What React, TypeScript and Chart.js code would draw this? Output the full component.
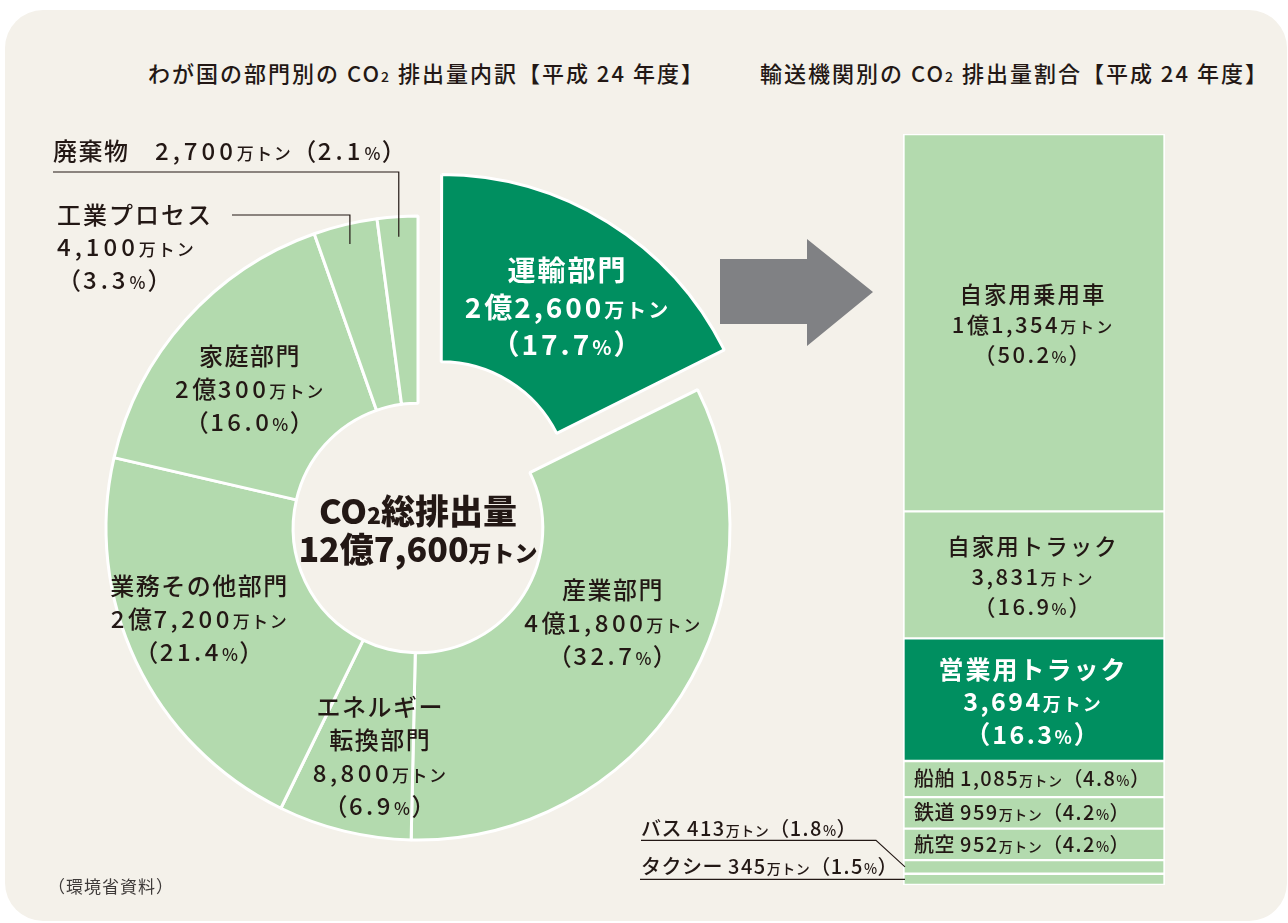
import React, { useEffect, useRef } from 'react';
import { Chart, registerables } from 'chart.js';

Chart.register(...registerables);

// ---- data ----
const sectorNames = ['運輸部門', '産業部門', 'エネルギー\n転換部門', '業務その他部門', '家庭部門', '工業プロセス', '廃棄物'];
const sectorAmounts = [22600, 41800, 8800, 27200, 20300, 4100, 2700]; // 万トン
const sectorShares = [17.7, 32.7, 6.9, 21.4, 16.0, 3.3, 2.1]; // %
const totalAmount = 127600; // 万トン

const modeNames = ['自家用乗用車', '自家用トラック', '営業用トラック', '船舶', '鉄道', '航空', 'バス', 'タクシー'];
const modeAmounts = [11354, 3831, 3694, 1085, 959, 952, 413, 345]; // 万トン
const modeShares = [50.2, 16.9, 16.3, 4.8, 4.2, 4.2, 1.8, 1.5]; // %

const leftTitle = ['わが国の部門別の CO', '2', ' 排出量内訳【平成 24 年度】'];
const rightTitle = ['輸送機関別の CO', '2', ' 排出量割合【平成 24 年度】'];
const sourceNote = '（環境省資料）';

// ---- styles ----
const LIGHT = '#b3daae';
const DARK = '#008f60';
const INK = '#231815';
const BG = '#f4f1ea';
const ARROW = '#808184';
const FAM = '"Noto Sans CJK JP", "Noto Sans", sans-serif';

function fmtAmount(v: number): string {
  const oku = Math.floor(v / 10000);
  const rest = v % 10000;
  const restStr = rest.toLocaleString('en-US');
  return oku > 0 ? `${oku}億${restStr}` : restStr;
}

type Part = { t: string; size: number; ls?: number };

function splitLine(line: string, size: number, digitLs?: number): Part[] {
  return line
    .split(/(万トン|%|[0-9,.]+)/)
    .filter((s) => s.length > 0)
    .map((s) => {
      if (s === '万トン' || s === '%') return { t: s, size: Math.round(size * 0.72) };
      if (/^[0-9,.]+$/.test(s) && digitLs !== undefined) return { t: s, size, ls: digitLs };
      return { t: s, size };
    });
}

function drawParts(
  ctx: CanvasRenderingContext2D,
  parts: Part[],
  x: number,
  yMid: number,
  weight: number,
  color: string,
  align: 'left' | 'center',
  spacing = 0
) {
  const widths = parts.map((p) => {
    ctx.font = `${weight} ${p.size}px ${FAM}`;
    (ctx as any).letterSpacing = (p.ls !== undefined ? p.ls : spacing) + 'px';
    return ctx.measureText(p.t).width;
  });
  const total = widths.reduce((a, b) => a + b, 0) - spacing;
  const big = Math.max(...parts.map((p) => p.size));
  const baseline = yMid + big * 0.37;
  let cx = align === 'center' ? x - total / 2 : x;
  ctx.fillStyle = color;
  ctx.textAlign = 'left';
  ctx.textBaseline = 'alphabetic';
  parts.forEach((p, i) => {
    ctx.font = `${weight} ${p.size}px ${FAM}`;
    (ctx as any).letterSpacing = (p.ls !== undefined ? p.ls : spacing) + 'px';
    ctx.fillText(p.t, cx, baseline);
    cx += widths[i];
  });
  (ctx as any).letterSpacing = '0px';
}

const sectorLabelNudge: [number, number][] = [
  [8, 6],
  [10, -22],
  [13, 16],
  [-22, -3],
  [-6, 7],
  [0, 0],
  [0, 0],
];

// Chart.js moves an offset arc by offset/4 * (1 + fix)
function effectiveOffset(off: number, circ: number) {
  const o = off / 4;
  const fix = 1 - Math.sin(Math.min(Math.PI, circ || 0));
  return o + o * fix;
}

const donutLabels = {
  id: 'donutLabels',
  afterDatasetsDraw(chart: any) {
    const ctx: CanvasRenderingContext2D = chart.ctx;
    const arcs = chart.getDatasetMeta(0).data;
    ctx.save();
    let center = { x: 0, y: 0 };
    arcs.forEach((arc: any, i: number) => {
      const p = arc.getProps(['x', 'y', 'startAngle', 'endAngle', 'innerRadius', 'outerRadius'], true);
      center = { x: p.x, y: p.y };
      const off = effectiveOffset((arc.options && arc.options.offset) || 0, p.endAngle - p.startAngle);
      const mid = (p.startAngle + p.endAngle) / 2;
      const amount = `${fmtAmount(sectorAmounts[i])}万トン`;
      const share = `（${sectorShares[i].toFixed(1)}%）`;
      if (i === 5 || i === 6) {
        const ar = p.outerRadius - 20;
        const ax = p.x + Math.cos(mid) * ar;
        const ay = p.y + Math.sin(mid) * ar;
        ctx.strokeStyle = INK;
        ctx.lineWidth = 1.2;
        if (i === 6) {
          const lineY = p.y - p.outerRadius - 44;
          const lineX = p.x - 365;
          ctx.beginPath();
          ctx.moveTo(ax, ay);
          ctx.lineTo(ax, lineY);
          ctx.lineTo(lineX, lineY);
          ctx.stroke();
          drawParts(ctx, splitLine(`${sectorNames[i]}　${amount}${share}`, 24, 4), lineX, lineY - 21, 500, INK, 'left', 1.5);
        } else {
          const lineY = p.y - p.outerRadius - 1;
          const textX = p.x - 361;
          ctx.beginPath();
          ctx.moveTo(ax, ay);
          ctx.lineTo(ax, lineY);
          ctx.lineTo(p.x - 186, lineY);
          ctx.stroke();
          const lines = [sectorNames[i], amount, share];
          lines.forEach((ln, k) =>
            drawParts(ctx, splitLine(ln, 24, 4), textX, lineY + k * 32.5, 500, INK, 'left', 2)
          );
        }
        return;
      }
      const r = (p.innerRadius + p.outerRadius) / 2 + off;
      const [dx, dy] = sectorLabelNudge[i];
      const cx = p.x + Math.cos(mid) * r + dx;
      const cy = p.y + Math.sin(mid) * r + dy;
      const isDark = i === 0;
      const size = isDark ? 28 : 24;
      const lh = isDark ? 37 : 33;
      const lines = [...sectorNames[i].split('\n'), amount, share];
      const y0 = cy - ((lines.length - 1) * lh) / 2;
      lines.forEach((ln, k) =>
        drawParts(
          ctx,
          splitLine(ln, size, isDark ? 3 : 3.5),
          cx,
          y0 + k * lh,
          isDark ? 700 : 500,
          isDark ? '#ffffff' : INK,
          'center',
          isDark ? 2 : 1.5
        )
      );
    });
    // center text
    drawParts(
      ctx,
      [
        { t: 'CO', size: 34 },
        { t: '2', size: 23 },
        { t: '総排出量', size: 34 },
      ],
      center.x,
      center.y - 17,
      900,
      INK,
      'center',
      0
    );
    drawParts(
      ctx,
      [
        { t: `${fmtAmount(totalAmount)}`, size: 34 },
        { t: '万トン', size: 23 },
      ],
      center.x,
      center.y + 21,
      900,
      INK,
      'center',
      0
    );
    ctx.restore();
  },
};

const barLabels = {
  id: 'barLabels',
  afterDatasetsDraw(chart: any) {
    const ctx: CanvasRenderingContext2D = chart.ctx;
    ctx.save();
    const geo = chart.data.datasets.map((_: any, i: number) => {
      const el = chart.getDatasetMeta(i).data[0];
      const { x, y, base, width } = el.getProps(['x', 'y', 'base', 'width'], true);
      const top = Math.min(y, base);
      const bot = Math.max(y, base);
      return { cy: (top + bot) / 2, left: x - width / 2 };
    });
    const inline = (k: number) => `${modeNames[k]} ${fmtAmount(modeAmounts[k])}万トン（${modeShares[k].toFixed(1)}%）`;
    geo.forEach((g: any, i: number) => {
      const amount = `${fmtAmount(modeAmounts[i])}万トン`;
      const share = `（${modeShares[i].toFixed(1)}%）`;
      if (i <= 2) {
        const isDark = i === 2;
        const x = g.left + 129;
        const nameSize = isDark ? 25 : 22.5;
        const numSize = isDark ? 25 : 22;
        const offs = isDark ? [-30, 2, 35] : [-28, 2, 32];
        const color = isDark ? '#ffffff' : INK;
        const w = isDark ? 700 : 500;
        drawParts(ctx, splitLine(modeNames[i], nameSize), x, g.cy + offs[0], w, color, 'center', 2);
        drawParts(ctx, splitLine(amount, numSize, 2.5), x, g.cy + offs[1], w, color, 'center', 2);
        drawParts(ctx, splitLine(share, numSize, 2.5), x, g.cy + offs[2], w, color, 'center', 2);
      } else if (i <= 5) {
        drawParts(ctx, splitLine(inline(i), 20, 1.5), g.left + 11, g.cy, 500, INK, 'left', 0.5);
      }
    });
    // outside labels for the thin segments
    const taxi = geo[7];
    const bus = geo[6];
    const textX = taxi.left - 262;
    ctx.strokeStyle = INK;
    ctx.lineWidth = 1.1;
    const taxiY = taxi.cy;
    ctx.beginPath();
    ctx.moveTo(textX - 1, taxiY);
    ctx.lineTo(taxi.left + 2, taxiY);
    ctx.stroke();
    drawParts(ctx, splitLine(inline(7), 20, 1.5), textX, taxiY - 13, 500, INK, 'left', 0.5);
    const busY = taxiY - 39;
    ctx.beginPath();
    ctx.moveTo(textX, busY);
    ctx.lineTo(bus.left - 27, busY);
    ctx.lineTo(bus.left + 2, bus.cy);
    ctx.stroke();
    drawParts(ctx, splitLine(inline(6), 20, 1.5), textX, busY - 12, 500, INK, 'left', 0.5);
    ctx.restore();
  },
};

export default function App() {
  const donutRef = useRef<HTMLCanvasElement>(null);
  const barRef = useRef<HTMLCanvasElement>(null);

  useEffect(() => {
    const dc = new Chart(donutRef.current as HTMLCanvasElement, {
      type: 'doughnut',
      data: {
        labels: sectorNames,
        datasets: [
          {
            data: sectorShares,
            backgroundColor: sectorNames.map((_, i) => (i === 0 ? DARK : LIGHT)),
            borderColor: '#ffffff',
            borderWidth: 3,
            offset: sectorNames.map((_, i) => (i === 0 ? 174 : 0)),
            hoverOffset: 0,
          } as any,
        ],
      },
      options: {
        responsive: false,
        animation: false,
        radius: 312,
        cutout: '40%',
        layout: { padding: { left: 0, right: 4, top: 36, bottom: 0 } },
        plugins: { legend: { display: false }, tooltip: { enabled: false } },
        events: [],
      } as any,
      plugins: [donutLabels],
    });

    const total = modeShares.reduce((a, b) => a + b, 0);
    const bc = new Chart(barRef.current as HTMLCanvasElement, {
      type: 'bar',
      data: {
        labels: [''],
        datasets: modeNames.map((n, i) => ({
          label: n,
          data: [modeShares[i]],
          backgroundColor: i === 2 ? DARK : LIGHT,
          borderColor: '#ffffff',
          borderWidth: { top: 1.5, bottom: 1.5, left: 2, right: 2 },
          borderSkipped: false,
          barPercentage: 1,
          categoryPercentage: 1,
        })) as any,
      },
      options: {
        responsive: false,
        animation: false,
        layout: { padding: { left: 283, right: 3, top: 9, bottom: 8 } },
        scales: {
          x: { stacked: true, display: false },
          y: { stacked: true, display: false, reverse: true, min: 0, max: total },
        },
        plugins: { legend: { display: false }, tooltip: { enabled: false } },
        events: [],
      } as any,
      plugins: [barLabels],
    });

    return () => {
      dc.destroy();
      bc.destroy();
    };
  }, []);

  const titleStyle: React.CSSProperties = {
    position: 'absolute',
    top: 57,
    fontFamily: FAM,
    fontSize: 22,
    fontWeight: 500,
    letterSpacing: 2,
    color: INK,
    whiteSpace: 'nowrap',
    lineHeight: '30px',
  };

  return (
    <div
      style={{
        position: 'absolute',
        left: 0,
        top: 0,
        width: 1288,
        height: 923,
        overflow: 'hidden',
        background: '#ffffff',
      }}
    >
      <div
        style={{
          position: 'absolute',
          left: 5,
          top: 10,
          width: 1282,
          height: 911,
          borderRadius: 38,
          background: BG,
        }}
      />
      <svg width={1288} height={923} style={{ position: 'absolute', left: 0, top: 0 }}>
        <polygon points="720,259 807,259 807,239 873,292 807,346 807,324 720,324" fill={ARROW} />
      </svg>
      <canvas ref={donutRef} width={780} height={800} style={{ position: 'absolute', left: 30, top: 110 }} />
      <canvas ref={barRef} width={548} height={768} style={{ position: 'absolute', left: 620, top: 125 }} />
      <div style={{ ...titleStyle, left: 148 }}>
        {leftTitle[0]}
        <span style={{ fontSize: 14 }}>{leftTitle[1]}</span>
        {leftTitle[2]}
      </div>
      <div style={{ ...titleStyle, left: 760 }}>
        {rightTitle[0]}
        <span style={{ fontSize: 14 }}>{rightTitle[1]}</span>
        {rightTitle[2]}
      </div>
      <div
        style={{
          position: 'absolute',
          left: 48,
          top: 874,
          fontFamily: FAM,
          fontSize: 17,
          letterSpacing: 1,
          color: '#3e3a39',
          whiteSpace: 'nowrap',
          lineHeight: '24px',
        }}
      >
        {sourceNote}
      </div>
    </div>
  );
}
